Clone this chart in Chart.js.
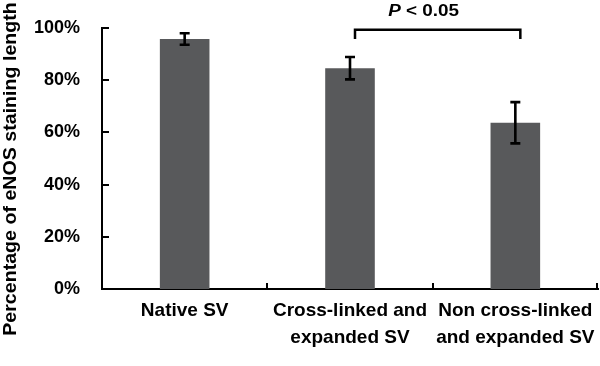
<!DOCTYPE html>
<html>
<head>
<meta charset="utf-8">
<script src="https://cdn.jsdelivr.net/npm/chart.js@4"></script>
<style>
  html, body { margin: 0; padding: 0; background: #fff; }
  #wrap { width: 600px; height: 366px; }
</style>
</head>
<body>
<div id="wrap"><canvas id="c" width="600" height="366"></canvas></div>
<script>
const categories = [['Native SV'], ['Cross-linked and', 'expanded SV'], ['Non cross-linked', 'and expanded SV']];
const values = [95.8, 84.6, 63.7];
const errors = [2.2, 4.3, 7.9];
const yTicks = [0, 20, 40, 60, 80, 100];
const yTitle = 'Percentage of eNOS staining length';
const sigFrom = 1, sigTo = 2;
const sigLabelItalic = 'P';
const sigLabelRest = ' < 0.05';
const sigLevel = 99.3;

const FONT = '"Liberation Sans", Arial, sans-serif';

const decor = {
  id: 'decor',
  afterDatasetsDraw(chart) {
    const ctx = chart.ctx, x = chart.scales.x, y = chart.scales.y, a = chart.chartArea;
    ctx.save();
    ctx.strokeStyle = '#000';
    ctx.fillStyle = '#000';
    // inward y ticks
    ctx.lineWidth = 2;
    yTicks.forEach(v => {
      const py = Math.round(y.getPixelForValue(v));
      ctx.beginPath(); ctx.moveTo(a.left, py); ctx.lineTo(a.left + 7, py); ctx.stroke();
    });
    // inward x ticks at category boundaries
    for (let i = 1; i <= categories.length; i++) {
      const px = Math.round(x.getPixelForValue(i - 0.5)) - (i === categories.length ? 1 : 0);
      ctx.beginPath(); ctx.moveTo(px, a.bottom); ctx.lineTo(px, a.bottom - 6); ctx.stroke();
    }
    // error bars
    ctx.lineWidth = 2.6;
    values.forEach((v, i) => {
      const px = x.getPixelForValue(i);
      const top = y.getPixelForValue(v + errors[i]);
      const bot = y.getPixelForValue(v - errors[i]);
      ctx.beginPath();
      ctx.moveTo(px, top); ctx.lineTo(px, bot);
      ctx.moveTo(px - 5, top); ctx.lineTo(px + 5, top);
      ctx.moveTo(px - 5, bot); ctx.lineTo(px + 5, bot);
      ctx.stroke();
    });
    // significance bracket
    const x1 = x.getPixelForValue(sigFrom) + 5;
    const x2 = x.getPixelForValue(sigTo) + 5;
    const by = y.getPixelForValue(sigLevel);
    const legBottom = y.getPixelForValue(values[0]);
    ctx.lineWidth = 2.5;
    ctx.beginPath();
    ctx.moveTo(x1, legBottom); ctx.lineTo(x1, by); ctx.lineTo(x2, by); ctx.lineTo(x2, legBottom);
    ctx.stroke();
    // P label
    const fontI = 'italic bold 16px ' + FONT;
    const fontB = 'bold 16px ' + FONT;
    ctx.font = fontI; const wI = ctx.measureText(sigLabelItalic).width;
    ctx.font = fontB; const wR = ctx.measureText(sigLabelRest).width;
    const sx = 1.18;
    const cx = x.getPixelForValue((sigFrom + sigTo) / 2) - 9;
    ctx.save();
    ctx.translate(cx, by - 14);
    ctx.scale(sx, 1);
    const start = -(wI + wR) / 2;
    ctx.textBaseline = 'alphabetic';
    ctx.textAlign = 'left';
    ctx.font = fontI; ctx.fillText(sigLabelItalic, start, 0);
    ctx.font = fontB; ctx.fillText(sigLabelRest, start + wI, 0);
    ctx.restore();
    // y title
    ctx.save();
    ctx.translate(16, 169);
    ctx.rotate(-Math.PI / 2);
    ctx.scale(1.09, 1);
    ctx.font = 'bold 18px ' + FONT;
    ctx.textAlign = 'center';
    ctx.textBaseline = 'alphabetic';
    ctx.fillText(yTitle, 0, 0);
    ctx.restore();
    ctx.restore();
  }
};

new Chart(document.getElementById('c'), {
  type: 'bar',
  data: {
    labels: categories,
    datasets: [{
      data: values,
      backgroundColor: '#58595b',
      borderWidth: 0,
      barPercentage: 0.3,
      categoryPercentage: 1
    }]
  },
  options: {
    responsive: false,
    devicePixelRatio: 1,
    animation: false,
    layout: { padding: { top: 28, right: 2, left: 0, bottom: 0 } },
    plugins: { legend: { display: false }, tooltip: { enabled: false } },
    scales: {
      x: {
        grid: { display: false, drawTicks: false },
        border: { display: true, color: '#000', width: 2 },
        ticks: {
          color: '#000',
          padding: 8,
          maxRotation: 0,
          autoSkip: false,
          font: { family: FONT, size: 19, weight: 'bold', lineHeight: 1.42 }
        },
        afterFit(s) { s.height = 77; s.paddingLeft = 0; s.paddingRight = 0; }
      },
      y: {
        min: 0, max: 100,
        afterBuildTicks(s) { s.ticks = yTicks.map(v => ({ value: v })); },
        grid: { display: false, drawTicks: false },
        border: { display: true, color: '#000', width: 2 },
        ticks: {
          color: '#000',
          padding: 22,
          callback: v => v + '%',
          font: { family: FONT, size: 18, weight: 'bold' }
        },
        afterFit(s) { s.width = 102; s.paddingTop = 0; s.paddingBottom = 0; }
      }
    }
  },
  plugins: [decor]
});
</script>
</body>
</html>
